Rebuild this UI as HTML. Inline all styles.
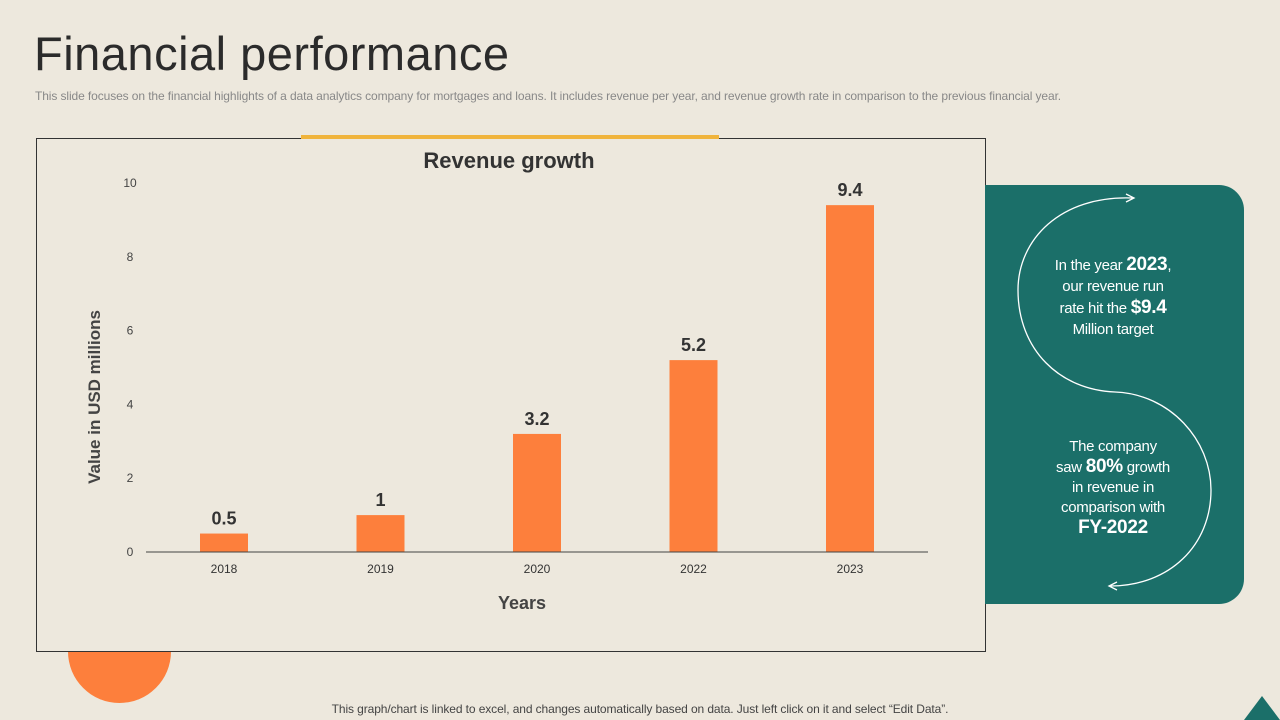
<!DOCTYPE html>
<html><head><meta charset="utf-8"><style>
body{margin:0;width:1280px;height:720px;background:#ede8dd;font-family:"Liberation Sans",sans-serif;position:relative;overflow:hidden}
.a{position:absolute}
</style></head><body>
<div class="a" style="left:34px;top:26px;font-size:47px;color:#2b2b2b;letter-spacing:0.5px">Financial performance</div>
<div class="a" style="left:35px;top:89px;font-size:12px;color:#888;letter-spacing:-0.1px;white-space:nowrap">This slide focuses on the financial highlights of a data analytics company for mortgages and loans. It includes revenue per year, and revenue growth rate in comparison to the previous financial year.</div>
<div class="a" style="left:68px;top:600px;width:103px;height:103px;border-radius:50%;background:#fd7f3c"></div>
<div class="a" style="left:36px;top:138px;width:948px;height:512px;border:1px solid #333;background:#ede8dd"></div>
<div class="a" style="left:301px;top:135px;width:418px;height:4px;background:#f0b43c"></div>
<div class="a" style="left:985px;top:185px;width:259px;height:419px;background:#1b6f69;border-radius:0 25px 25px 0"></div>
<svg class="a" style="left:0;top:0" width="1280" height="720">
<text x="509" y="168" text-anchor="middle" font-size="22" font-weight="bold" fill="#333">Revenue growth</text>
<text x="522" y="609" text-anchor="middle" font-size="18" font-weight="bold" fill="#444">Years</text>
<text transform="translate(100,397) rotate(-90)" text-anchor="middle" font-size="17" font-weight="bold" fill="#444">Value in USD millions</text>
<g id="g"></g>
<path d="M1133,198 C1060,195 1018,240 1018,290 C1018,350 1060,390 1115,392 C1170,394 1211,440 1211,490 C1211,545 1170,586 1110,586" fill="none" stroke="#fff" stroke-width="1.3"/>
<path d="M1126,194 L1134,198 L1126,202" fill="none" stroke="#fff" stroke-width="1.3"/>
<path d="M1117,582 L1109,586 L1117,590" fill="none" stroke="#fff" stroke-width="1.3"/>
</svg>
<div class="a" style="left:1028px;top:254px;width:170px;text-align:center;color:#fff;font-size:15px;line-height:21px;letter-spacing:-0.3px">In the year <b style="font-size:19px">2023</b>,<br>our revenue run<br>rate hit the <b style="font-size:19px">$9.4</b><br>Million target</div>
<div class="a" style="left:1028px;top:437px;width:170px;text-align:center;color:#fff;font-size:15px;line-height:20px;letter-spacing:-0.3px">The company<br>saw <b style="font-size:19px">80%</b> growth<br>in revenue in<br>comparison with<br><b style="font-size:19px">FY-2022</b></div>
<div class="a" style="left:0;width:1280px;top:702px;text-align:center;font-size:12px;color:#444;letter-spacing:-0.1px">This graph/chart is linked to excel,  and changes automatically based on data. Just left click on it and select “Edit Data”.</div>
<svg class="a" style="left:1244px;top:694px" width="36" height="26"><path d="M0,26 L18,2 L36,26Z" fill="#1b6f69"/></svg>
<script>
const categories=["2018","2019","2020","2022","2023"];
const values=[0.5,1,3.2,5.2,9.4];
const yTicks=[0,2,4,6,8,10];
const g=document.getElementById('g');
const ns="http://www.w3.org/2000/svg";
const y=v=>552-v*36.9;
const x=i=>224+i*156.5;
function mk(t,a,txt){const e=document.createElementNS(ns,t);for(const k in a)e.setAttribute(k,a[k]);if(txt!==undefined)e.textContent=txt;g.appendChild(e);return e;}
yTicks.forEach(t=>{const e=mk('text',{x:130,y:y(t)+4,'text-anchor':'middle','font-size':12,fill:'#444'},t);

});
values.forEach((v,i)=>{
const r=mk('rect',{x:x(i)-24,y:y(v),width:48,height:552-y(v),fill:'#fd7f3c'});


const l=mk('text',{x:x(i),y:y(v)-9,'text-anchor':'middle','font-size':18,'font-weight':'bold',fill:'#333'},v);


const c=mk('text',{x:x(i),y:573,'text-anchor':'middle','font-size':12,fill:'#333'},categories[i]);


});
const ax=mk('line',{x1:146,x2:928,y1:552,y2:552,stroke:'#444','stroke-width':1});


</script>
</body></html>
